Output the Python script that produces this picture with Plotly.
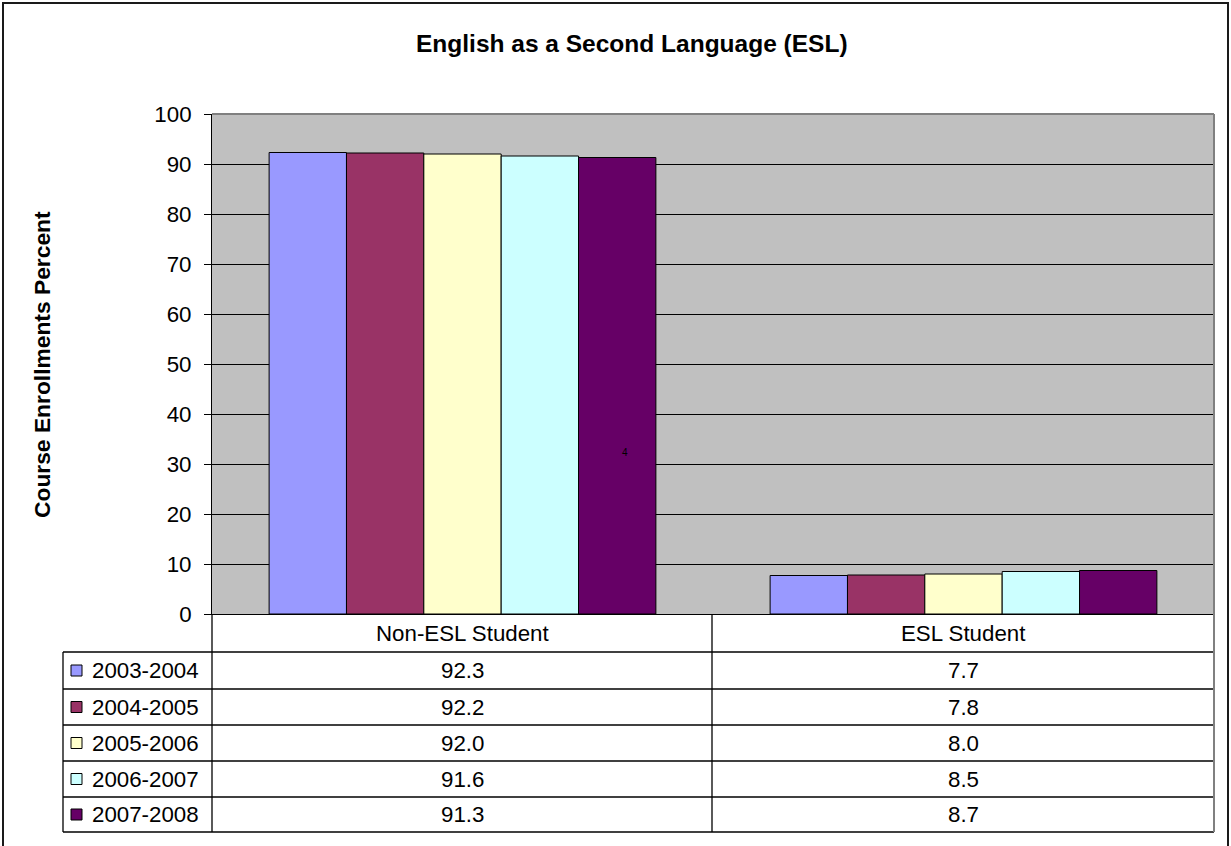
import plotly.graph_objects as go

# Enrolment shares by student type and school year
categories = ["Non-ESL Student", "ESL Student"]
years = ["2003-2004", "2004-2005", "2005-2006", "2006-2007", "2007-2008"]
non_esl = [92.3, 92.2, 92.0, 91.6, 91.3]
esl = [7.7, 7.8, 8.0, 8.5, 8.7]
colors = ["#9999FF", "#993366", "#FFFFCC", "#CCFFFF", "#660066"]
y_ticks = [0, 10, 20, 30, 40, 50, 60, 70, 80, 90, 100]

FONT = "Liberation Sans, Arial, sans-serif"
FIG_W, FIG_H = 1231, 846
L, R, T, B = 212, 17, 114, 232
PW, PH = FIG_W - L - R, FIG_H - T - B
TXT = 22.3


def px(x):
    """Pixel column -> paper x."""
    return (x - L) / PW


def py(y):
    """Pixel row -> paper y."""
    return (FIG_H - B - y) / PH


fig = go.Figure()
for i, yr in enumerate(years):
    fig.add_trace(go.Bar(
        x=categories,
        y=[non_esl[i], esl[i]],
        name=yr,
        marker=dict(color=colors[i], line=dict(color="#000000", width=1)),
        showlegend=False,
    ))

shapes = []
annotations = []

# outer chart frame
shapes.append(dict(type="rect", xref="paper", yref="paper",
                   x0=px(3), x1=px(1228), y0=py(850), y1=py(3),
                   line=dict(color="#1a1a1a", width=2), layer="above"))

# plot area border (top and right)
shapes.append(dict(type="line", xref="paper", yref="paper",
                   x0=0, x1=1, y0=1, y1=1,
                   line=dict(color="#808080", width=2), layer="above"))
shapes.append(dict(type="line", xref="paper", yref="paper",
                   x0=1, x1=1, y0=0, y1=1,
                   line=dict(color="#808080", width=2), layer="above"))

# data table grid
row_edges = [614, 652, 689, 725, 761, 797, 832]
x_left, x_col, x_mid, x_right = 63, 212, 712, 1214
for yy in row_edges[1:]:
    shapes.append(dict(type="line", xref="paper", yref="paper",
                       x0=px(x_left), x1=px(x_right), y0=py(yy), y1=py(yy),
                       line=dict(color="#000000", width=1.3)))
shapes.append(dict(type="line", xref="paper", yref="paper",
                   x0=px(x_left), x1=px(x_left), y0=py(652), y1=py(832),
                   line=dict(color="#000000", width=1.3)))
for xx in (x_col, x_mid):
    shapes.append(dict(type="line", xref="paper", yref="paper",
                       x0=px(xx), x1=px(xx), y0=py(614), y1=py(832),
                       line=dict(color="#000000", width=1.3)))
shapes.append(dict(type="line", xref="paper", yref="paper",
                   x0=px(x_right), x1=px(x_right), y0=py(614), y1=py(832),
                   line=dict(color="#808080", width=2)))

# header row: category names
for ci, cat in enumerate(categories):
    annotations.append(dict(x=ci, xref="x", y=py(633), yref="paper",
                            text=cat, showarrow=False,
                            xanchor="center", yanchor="middle",
                            font=dict(family=FONT, size=TXT, color="#000000")))

# rows: legend key, year label and values
for i, yr in enumerate(years):
    yc = (row_edges[i + 1] + row_edges[i + 2]) / 2
    shapes.append(dict(type="rect", xref="paper", yref="paper",
                       x0=px(71), x1=px(82), y0=py(yc + 5.5), y1=py(yc - 5.5),
                       fillcolor=colors[i], line=dict(color="#000000", width=1)))
    annotations.append(dict(x=px(90), xref="paper", y=py(yc), yref="paper",
                            text=yr, showarrow=False,
                            xanchor="left", yanchor="middle",
                            font=dict(family=FONT, size=TXT, color="#000000")))
    for ci, vals in enumerate((non_esl, esl)):
        annotations.append(dict(x=ci, xref="x", y=py(yc), yref="paper",
                                text=f"{vals[i]:.1f}", showarrow=False,
                                xanchor="center", yanchor="middle",
                                font=dict(family=FONT, size=TXT, color="#000000")))

# chart title
annotations.append(dict(x=px(632), xref="paper", y=py(43), yref="paper",
                        text="<b>English as a Second Language (ESL)</b>",
                        showarrow=False, xanchor="center", yanchor="middle",
                        font=dict(family=FONT, size=24.5, color="#000000")))

# value axis title
annotations.append(dict(x=px(42), xref="paper", y=py(365), yref="paper",
                        text="<b>Course Enrollments Percent</b>", textangle=-90,
                        showarrow=False, xanchor="center", yanchor="middle",
                        font=dict(family=FONT, size=22.8, color="#000000")))

# small stray label inside the last Non-ESL bar
annotations.append(dict(x=px(625), xref="paper", y=py(453), yref="paper",
                        text="4", showarrow=False,
                        xanchor="center", yanchor="middle",
                        font=dict(family=FONT, size=10, color="#000000")))

fig.update_layout(
    width=FIG_W, height=FIG_H,
    margin=dict(l=L, r=R, t=T, b=B, pad=0),
    paper_bgcolor="#FFFFFF",
    plot_bgcolor="#C0C0C0",
    barmode="group",
    bargap=0.228,
    bargroupgap=0,
    font=dict(family=FONT, size=TXT, color="#000000"),
    shapes=shapes,
    annotations=annotations,
)
fig.update_xaxes(
    range=[-0.5, 1.5], showticklabels=False, ticks="",
    showgrid=False, showline=True, linecolor="#000000", linewidth=1,
    zeroline=False,
)
fig.update_yaxes(
    range=[0, 100], tickvals=y_ticks, ticktext=[str(v) for v in y_ticks],
    ticks="outside", ticklen=7, tickcolor="#000000", tickwidth=1,
    ticklabelstandoff=8,
    showgrid=True, gridcolor="#000000", gridwidth=1,
    showline=True, linecolor="#000000", linewidth=1,
    zeroline=False,
    tickfont=dict(family=FONT, size=TXT, color="#000000"),
)

fig.write_html("out.html")
